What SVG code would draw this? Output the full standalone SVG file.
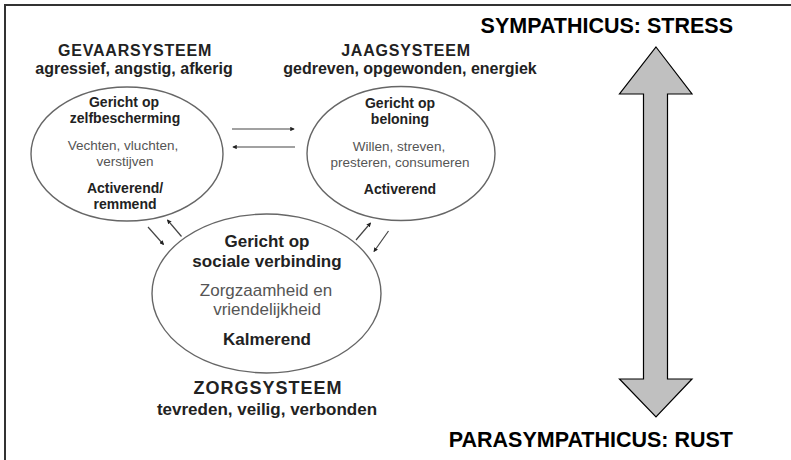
<svg xmlns="http://www.w3.org/2000/svg" width="791" height="460" viewBox="0 0 791 460">
<style>
text{font-family:"Liberation Sans",Arial,sans-serif;text-anchor:middle;fill:#222}
.h{font-weight:bold;font-size:16px;letter-spacing:0.8px}
.s{font-weight:bold;font-size:16px}
.b{font-weight:bold;font-size:14px}
.r{font-size:13.5px;fill:#555}
.bb{font-weight:bold;font-size:17px}
.rr{font-size:17px;fill:#555}
.big{font-weight:bold;font-size:21.5px;fill:#000;text-anchor:end}
.el{fill:#fff;stroke:#666;stroke-width:1.4}
.c{stroke:#444;stroke-width:1.2;fill:none;marker-end:url(#m)}
</style>
<defs>
<marker id="m" viewBox="0 0 6 6" refX="5" refY="3" markerWidth="4.5" markerHeight="4.5" markerUnits="userSpaceOnUse" orient="auto">
<path d="M0,0 L6,3 L0,6 z" fill="#222"/>
</marker>
</defs>
<rect width="791" height="460" fill="#fff"/>
<path d="M5,460 V5 H791" fill="none" stroke="#333" stroke-width="2"/>

<g id="gevaarsysteem">
<text class="h" x="135" y="56">GEVAARSYSTEEM</text>
<text class="s" x="134" y="74">agressief, angstig, afkerig</text>
<ellipse class="el" cx="127" cy="154" rx="96" ry="67"/>
<text class="b" x="124" y="107">Gericht op</text>
<text class="b" x="125" y="123">zelfbescherming</text>
<text class="r" x="123" y="150">Vechten, vluchten,</text>
<text class="r" x="125" y="166">verstijven</text>
<text class="b" x="125" y="193">Activerend/</text>
<text class="b" x="125" y="209">remmend</text>
</g>

<g id="jaagsysteem">
<text class="h" x="406" y="56">JAAGSYSTEEM</text>
<text class="s" x="410" y="74">gedreven, opgewonden, energiek</text>
<ellipse class="el" cx="401" cy="153.5" rx="94" ry="67"/>
<text class="b" x="400" y="108">Gericht op</text>
<text class="b" x="400" y="124">beloning</text>
<text class="r" x="399" y="151">Willen, streven,</text>
<text class="r" x="400" y="167">presteren, consumeren</text>
<text class="b" x="400" y="194">Activerend</text>
</g>

<g id="zorgsysteem">
<ellipse class="el" cx="266.5" cy="293.5" rx="114.5" ry="79.5"/>
<text class="bb" x="267" y="247">Gericht op</text>
<text class="bb" x="267" y="267">sociale verbinding</text>
<text class="rr" x="266" y="296">Zorgzaamheid en</text>
<text class="rr" x="267" y="315">vriendelijkheid</text>
<text class="bb" x="267" y="345">Kalmerend</text>
<text class="bb" x="268" y="394" style="font-size:18px;letter-spacing:1px">ZORGSYSTEEM</text>
<text class="bb" x="267" y="415">tevreden, veilig, verbonden</text>
</g>

<g id="stress-axis">
<text class="big" x="733" y="33">SYMPATHICUS: STRESS</text>
<path d="M656,47 L692,94 L667.5,94 L667.5,379 L692,379 L656,417 L619.5,379 L643.5,379 L643.5,94 L619.5,94 Z" fill="#c0c0c0" stroke="#000" stroke-width="1.2" stroke-linejoin="miter"/>
<text class="big" x="733" y="447">PARASYMPATHICUS: RUST</text>
</g>

<g id="connectors">
<line class="c" x1="232" y1="129" x2="294" y2="129"/>
<line class="c" x1="295" y1="147" x2="233" y2="147"/>
<line class="c" x1="148" y1="227" x2="163.5" y2="244.5"/>
<line class="c" x1="181.5" y1="236.5" x2="167.5" y2="220"/>
<line class="c" x1="356" y1="240" x2="370.5" y2="223"/>
<line class="c" x1="388.5" y1="231" x2="374" y2="251.5"/>
</g>
</svg>
